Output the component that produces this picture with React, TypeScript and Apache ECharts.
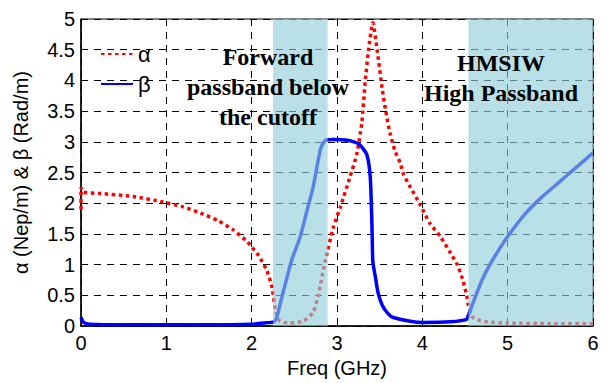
import React, { useEffect, useRef } from "react";
import * as echarts from "echarts";

const xTicks = [0, 1, 2, 3, 4, 5, 6];
const yTicks = [0, 0.5, 1, 1.5, 2, 2.5, 3, 3.5, 4, 4.5, 5];

const alphaData: [number, number][] = [
  [0, 1.9], [0, 2.26], [0.03, 2.18], [0.22, 2.16], [0.61, 2.11], [0.96, 2.02],
  [1.2, 1.94], [1.4, 1.84], [1.6, 1.72], [1.78, 1.57], [1.95, 1.37], [2.08, 1.15],
  [2.18, 0.9], [2.24, 0.62], [2.28, 0.25], [2.33, 0.08], [2.45, 0.05], [2.6, 0.08],
  [2.72, 0.22], [2.78, 0.5], [2.86, 1.05], [2.96, 1.62], [3.04, 1.94], [3.15, 2.42],
  [3.23, 2.79], [3.29, 3.3], [3.33, 3.97], [3.37, 4.5], [3.42, 4.94], [3.47, 4.5],
  [3.53, 3.86], [3.58, 3.43], [3.62, 3.15], [3.68, 2.85], [3.74, 2.66], [3.78, 2.47],
  [3.86, 2.26], [3.97, 1.99], [4.09, 1.67], [4.21, 1.46], [4.33, 1.19], [4.41, 1.0],
  [4.47, 0.77], [4.52, 0.5], [4.54, 0.34], [4.6, 0.13], [4.76, 0.07], [5.0, 0.05],
  [5.5, 0.04], [6.0, 0.04],
];

const betaData: [number, number][] = [
  [0, 0.14], [0.03, 0.06], [0.1, 0.03], [0.5, 0.02], [1.0, 0.02], [1.5, 0.02],
  [2.0, 0.03], [2.15, 0.05], [2.26, 0.07], [2.29, 0.12], [2.35, 0.45], [2.41, 0.77],
  [2.47, 1.08], [2.57, 1.46], [2.65, 1.89], [2.72, 2.26], [2.77, 2.63], [2.81, 2.9],
  [2.86, 3.02], [2.95, 3.04], [3.1, 3.03], [3.2, 3.0], [3.27, 2.95], [3.35, 2.79],
  [3.39, 2.42], [3.41, 1.62], [3.42, 1.05], [3.45, 0.8], [3.48, 0.55], [3.53, 0.34],
  [3.6, 0.2], [3.66, 0.14], [3.86, 0.08], [4.0, 0.06], [4.33, 0.07], [4.52, 0.11],
  [4.54, 0.18], [4.6, 0.4], [4.7, 0.75], [4.8, 1.02], [4.9, 1.25], [5.0, 1.46],
  [5.2, 1.82], [5.4, 2.1], [5.6, 2.34], [5.8, 2.58], [6.0, 2.82],
];

const shadedBands: [number, number][] = [
  [2.25, 2.89],
  [4.54, 6],
];

const labelForward = "Forward\npassband below\nthe cutoff";
const labelHigh = "HMSIW\nHigh Passband";

export default function App() {
  const ref = useRef<HTMLDivElement>(null);
  useEffect(() => {
    if (!ref.current) return;
    const chart = echarts.init(ref.current, null, { renderer: "svg" });
    const sans = "Liberation Sans";
    chart.setOption({
      animation: false,
      grid: {
        left: 81, right: 17, top: 19, bottom: 52,
        show: true, borderColor: "#000", borderWidth: 1,
      },
      legend: {
        orient: "vertical",
        left: 95, top: 38,
        itemWidth: 32, itemHeight: 14, itemGap: 8,
        itemStyle: { opacity: 0 },
        textStyle: { fontFamily: sans, fontSize: 22, color: "#000", lineHeight: 22 },
        data: ["α", "β"],
      },
      xAxis: {
        type: "value", min: 0, max: 6, interval: 1,
        name: "Freq (GHz)", nameLocation: "middle", nameGap: 30,
        nameTextStyle: { fontFamily: sans, fontSize: 20, color: "#000" },
        axisLine: { lineStyle: { color: "#000", width: 1.5 } },
        axisTick: { inside: true, length: 5, lineStyle: { color: "#000" } },
        axisLabel: { fontFamily: sans, fontSize: 20, color: "#000", margin: 7,
          formatter: (v: number) => (xTicks.includes(v) ? String(v) : "") },
        splitLine: { show: true, lineStyle: { color: "#000", type: [7, 6], width: 1 } },
      },
      yAxis: {
        type: "value", min: 0, max: 5, interval: 0.5,
        name: "α (Nep/m) & β (Rad/m)", nameLocation: "middle", nameGap: 50,
        nameTextStyle: { fontFamily: sans, fontSize: 20, color: "#000" },
        axisLine: { show: true, lineStyle: { color: "#000", width: 1.5 } },
        axisTick: { show: true, inside: true, length: 5, lineStyle: { color: "#000" } },
        axisLabel: { fontFamily: sans, fontSize: 20, color: "#000", margin: 6,
          formatter: (v: number) => (yTicks.includes(v) ? String(v) : "") },
        splitLine: { show: true, lineStyle: { color: "#000", type: [7, 6], width: 1 } },
      },
      series: [
        {
          name: "α", type: "line", data: alphaData, symbol: "none", smooth: 0.2,
          lineStyle: { color: "#ff0000", width: 3.5, type: [3.5, 3.5] },
          itemStyle: { color: "#ff0000" }, z: 3,
        },
        {
          name: "β", type: "line", data: betaData, symbol: "none", smooth: 0.2,
          lineStyle: { color: "#0000ff", width: 3.5 },
          itemStyle: { color: "#0000ff" }, z: 4,
        },
        {
          name: "shade", type: "custom", z: 10, silent: true,
          data: shadedBands,
          encode: { x: [0, 1] },
          renderItem: (_params: any, api: any) => {
            const p0 = api.coord([api.value(0), 5]);
            const p1 = api.coord([api.value(1), 0]);
            return {
              type: "rect",
              shape: { x: p0[0], y: p0[1], width: p1[0] - p0[0], height: p1[1] - p0[1] },
              style: { fill: "rgba(143,206,216,0.63)" },
            };
          },
        },
      ],
      graphic: [
        {
          type: "text", x: 268, y: 87, z: 100,
          style: {
            text: labelForward, fontFamily: "Liberation Serif", fontWeight: "bold",
            fontSize: 24, lineHeight: 30, fill: "#000",
            align: "center", verticalAlign: "middle",
          },
        },
        {
          type: "text", x: 501, y: 78, z: 100,
          style: {
            text: labelHigh, fontFamily: "Liberation Serif", fontWeight: "bold",
            fontSize: 24, lineHeight: 30, fill: "#000",
            align: "center", verticalAlign: "middle",
          },
        },
      ],
    });
    return () => chart.dispose();
  }, []);
  return <div ref={ref} style={{ width: 610, height: 383, position: "absolute", left: 0, top: 0, background: "#fff" }} />;
}
